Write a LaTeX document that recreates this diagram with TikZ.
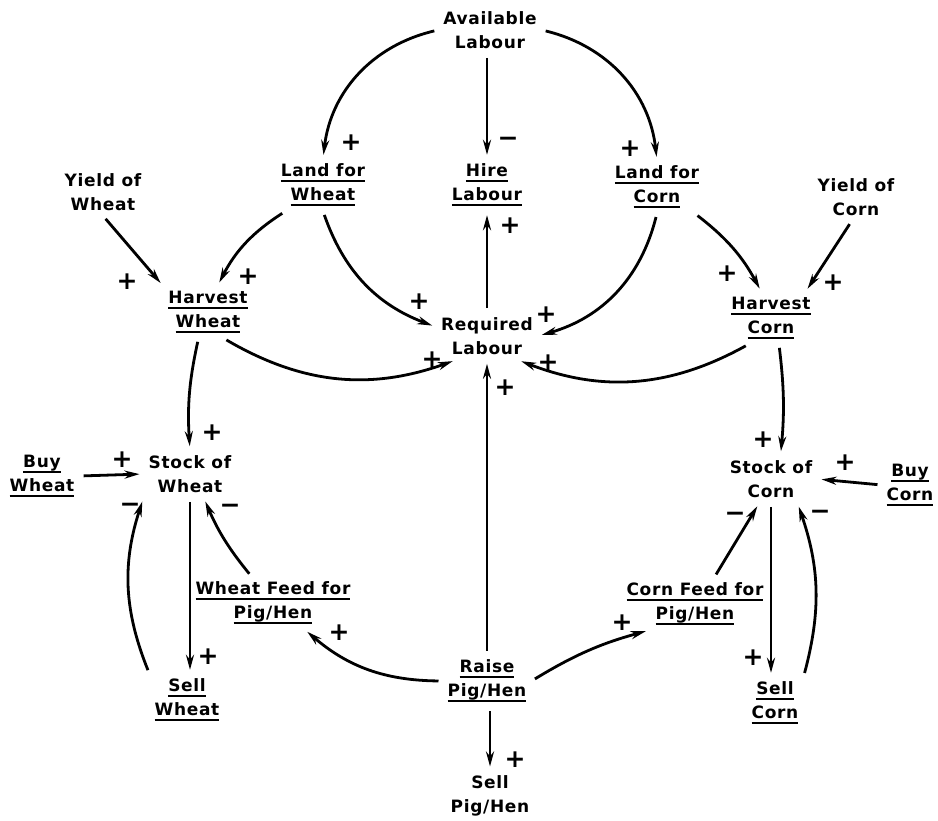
\documentclass[tikz,border=0pt]{standalone}
\usepackage{fontspec}
\setmainfont{DejaVu Sans}[LetterSpace=4]
\usetikzlibrary{arrows.meta}
\newcommand{\ulLine}[1]{\setbox0\hbox{#1}\rlap{\copy0}\rule[-5pt]{\wd0}{2pt}}

\begin{document}
\begin{tikzpicture}[x=1pt,y=-1pt,
  var/.style={align=center, font=\bfseries\fontsize{17}{24}\selectfont, inner sep=5pt},
  sign/.style={font=\bfseries\fontsize{25}{25}\selectfont, inner sep=0pt},
  link/.style={line width=2.8pt, -{Stealth[length=15pt,width=8pt]}, shorten <=4pt, shorten >=4pt}]
\useasboundingbox (0,0) rectangle (938,821);
\node[var] (avail) at (490,30) {Available\\Labour};
\node[var] (landw) at (323,185) {\ulLine{Land for}\\\ulLine{Wheat}};
\node[var] (hire) at (487,185) {\ulLine{Hire}\\\ulLine{Labour}};
\node[var] (landc) at (657,187) {\ulLine{Land for}\\\ulLine{Corn}};
\node[var] (yieldw) at (103,192) {Yield of\\Wheat};
\node[var] (yieldc) at (856,197) {Yield of\\Corn};
\node[var] (harvw) at (208,312) {\ulLine{Harvest}\\\ulLine{Wheat}};
\node[var] (harvc) at (771,318) {\ulLine{Harvest}\\\ulLine{Corn}};
\node[var] (req) at (487,336) {Required\\Labour};
\node[var] (buyw) at (42,476) {\ulLine{Buy}\\\ulLine{Wheat}};
\node[var] (stockw) at (190,474) {Stock of\\Wheat};
\node[var] (stockc) at (771,479) {Stock of\\Corn};
\node[var] (buyc) at (910,485) {\ulLine{Buy}\\\ulLine{Corn}};
\node[var] (wfeed) at (273,603) {\ulLine{Wheat Feed for}\\\ulLine{Pig/Hen}};
\node[var] (cfeed) at (695,604) {\ulLine{Corn Feed for}\\\ulLine{Pig/Hen}};
\node[var] (sellw) at (187,700) {\ulLine{Sell}\\\ulLine{Wheat}};
\node[var] (sellc) at (775,703) {\ulLine{Sell}\\\ulLine{Corn}};
\node[var] (raise) at (487,681) {\ulLine{Raise}\\\ulLine{Pig/Hen}};
\node[var] (sellph) at (490,796) {Sell\\Pig/Hen};
\draw[link] (avail.west) to[bend right=35] (landw.north);
\draw[link] (hire.north |- avail.south) -- (hire.north);
\draw[link] (avail.east) to[bend left=35] (landc.north);
\draw[link] (req.north) -- (hire.south);
\draw[link] (landw.215) to[bend right=15] (harvw.70);
\draw[link] (yieldw.south) -- (harvw.north west);
\draw[link] (landw.south) to[bend right=25] (req.170);
\draw[link] (harvw.300) to[bend right=25] (req.218);
\draw[link] (landc.south) to[bend left=30] (req.east);
\draw[link] (landc.325) to[bend left=12] (harvc.110);
\draw[link] (yieldc.260) -- (harvc.37);
\draw[link] (harvc.230) to[bend left=25] (req.322);
\draw[link] (raise.north) -- (req.south);
\draw[link] (harvw.250) to[bend right=8] (stockw.north);
\draw[link] (buyw.east) -- (stockw.west);
\draw[link] (stockw.south) -- (stockw.south |- sellw.north);
\draw[link] (sellw.north west) to[bend left=20] (stockw.south west);
\draw[link] (wfeed.129) to[bend left=8] (stockw.300);
\draw[link] (raise.west) to[bend left=20] (wfeed.320);
\draw[link] (raise.east) to[bend left=8] (cfeed.210);
\draw[link] (sellph.north |- raise.south) -- (sellph.north);
\draw[link] (harvc.287) to[bend left=6] (stockc.68);
\draw[link] (buyc.west) -- (stockc.east);
\draw[link] (stockc.south) -- (stockc.south |- sellc.north);
\draw[link] (sellc.north east) to[bend right=17] (stockc.318);
\draw[link] (cfeed.54) -- (stockc.244);
\node[sign] (sgnAvLw) at (351,143) {+};
\node[sign] (sgnAvHi) at (508,142) {−};
\node[sign] (sgnAvLc) at (630,149) {+};
\node[sign] (sgnRqHi) at (510,226) {+};
\node[sign] (sgnLwHw) at (248,277) {+};
\node[sign] (sgnYwHw) at (127,282) {+};
\node[sign] (sgnLwRq) at (419,302) {+};
\node[sign] (sgnHwRq) at (432,360) {+};
\node[sign] (sgnLcRq) at (546,315) {+};
\node[sign] (sgnLcHc) at (727,274) {+};
\node[sign] (sgnYcHc) at (833,283) {+};
\node[sign] (sgnHcRq) at (548,363) {+};
\node[sign] (sgnRpRq) at (505,388) {+};
\node[sign] (sgnHwSw) at (212,433) {+};
\node[sign] (sgnBwSw) at (122,460) {+};
\node[sign] (sgnSlSw) at (130,508) {−};
\node[sign] (sgnWfSw) at (230,509) {−};
\node[sign] (sgnSwSl) at (208,657) {+};
\node[sign] (sgnRpWf) at (339,633) {+};
\node[sign] (sgnRpCf) at (622,623) {+};
\node[sign] (sgnRpSp) at (515,760) {+};
\node[sign] (sgnHcSc) at (763,440) {+};
\node[sign] (sgnBcSc) at (845,463) {+};
\node[sign] (sgnCfSc) at (735,517) {−};
\node[sign] (sgnSlSc) at (820,515) {−};
\node[sign] (sgnScSl) at (753,658) {+};
\end{tikzpicture}
\end{document}
